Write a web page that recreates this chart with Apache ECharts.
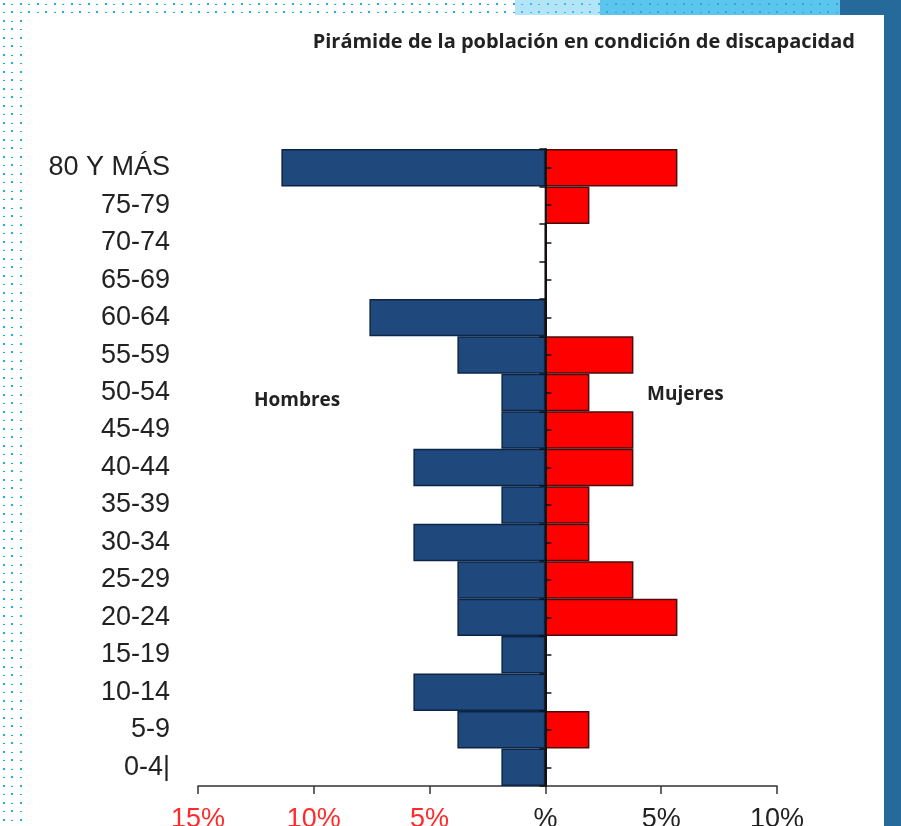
<!DOCTYPE html>
<html>
<head>
<meta charset="utf-8">
<script src="https://cdn.jsdelivr.net/npm/echarts@6/dist/echarts.min.js"></script>
<style>
html,body{margin:0;padding:0;background:#fff;}
#chart{width:901px;height:826px;}
</style>
</head>
<body>
<div id="chart"></div>
<script>
var categories = ["80 Y MÁS","75-79","70-74","65-69","60-64","55-59","50-54","45-49","40-44","35-39","30-34","25-29","20-24","15-19","10-14","5-9","0-4|"];
var hombres = [11.4,0,0,0,7.6,3.8,1.9,1.9,5.7,1.9,5.7,3.8,3.8,1.9,5.7,3.8,1.9];
var mujeres = [5.7,1.9,0,0,0,3.8,1.9,3.8,3.8,1.9,1.9,3.8,5.7,0,0,1.9,0];
var xTicks = [-15,-10,-5,0,5,10];
var xTickLabels = ["15%","10%","5%","%","5%","10%"];
var titleText = "Pirámide de la población en condición de discapacidad";

function dotPattern(bg, dot) {
  var c = document.createElement('canvas');
  c.width = 17; c.height = 17;
  var g = c.getContext('2d');
  g.fillStyle = bg; g.fillRect(0, 0, 17, 17);
  g.fillStyle = dot;
  g.fillRect(3, 3, 2, 2);
  g.fillRect(11, 11, 2, 2);
  g.fillRect(11, 4, 2, 1);
  g.fillRect(3, 12, 2, 1);
  return c;
}

var chart = echarts.init(document.getElementById('chart'), null, {renderer: 'canvas'});
var gridPos = {left: 198, top: 149, width: 579, height: 637};

function labelFor(v) {
  var i = xTicks.indexOf(v);
  return i >= 0 ? xTickLabels[i] : '';
}

chart.setOption({
  backgroundColor: '#ffffff',
  animation: false,
  title: {
    text: titleText,
    right: 41, top: 27,
    textStyle: {fontFamily: 'Open Sans', fontWeight: 'bold', fontSize: 20, color: '#222'}
  },
  graphic: [
    {type: 'rect', shape: {x: 0, y: 0, width: 22, height: 826}, style: {fill: {image: dotPattern('#ffffff', '#1aaee8'), repeat: 'repeat'}}, silent: true, z: -10},
    {type: 'rect', shape: {x: 0, y: 0, width: 515, height: 15}, style: {fill: {image: dotPattern('#ffffff', '#1aaee8'), repeat: 'repeat'}}, silent: true, z: -10},
    {type: 'rect', shape: {x: 515, y: 0, width: 85, height: 15}, style: {fill: {image: dotPattern('#b3e4f8', '#3dbbec'), repeat: 'repeat'}}, silent: true, z: -10},
    {type: 'rect', shape: {x: 600, y: 0, width: 240, height: 15}, style: {fill: {image: dotPattern('#5cc5ed', '#2aa8dc'), repeat: 'repeat'}}, silent: true, z: -10},
    {type: 'rect', shape: {x: 840, y: 0, width: 61, height: 15}, style: {fill: '#256a9b'}, silent: true, z: -10},
    {type: 'rect', shape: {x: 884, y: 0, width: 17, height: 826}, style: {fill: '#256a9b'}, silent: true, z: -10},
    {type: 'text', left: 254, top: 391, style: {text: 'Hombres', fontFamily: 'Open Sans', fontWeight: 'bold', fontSize: 19, fill: '#222'}},
    {type: 'text', left: 647, top: 385, style: {text: 'Mujeres', fontFamily: 'Open Sans', fontWeight: 'bold', fontSize: 19, fill: '#222'}}
  ],
  grid: [
    Object.assign({outerBoundsMode: 'none', containLabel: false}, gridPos),
    Object.assign({outerBoundsMode: 'none', containLabel: false}, gridPos)
  ],
  xAxis: [
    {
      type: 'value', gridIndex: 0, min: -15, max: 10, interval: 5,
      splitLine: {show: false},
      axisLine: {show: true, lineStyle: {color: '#333', width: 1.5}},
      axisTick: {show: true, length: 8, lineStyle: {color: '#333', width: 1.5}},
      axisLabel: {
        margin: 20, fontSize: 27, fontFamily: 'Liberation Sans',
        formatter: function (v) { return labelFor(v); },
        color: function (v) { return Number(v) < 0 ? '#ff2a2a' : '#222'; }
      }
    },
    {
      type: 'value', gridIndex: 1, min: -15, max: 10, interval: 5,
      show: false, splitLine: {show: false}
    }
  ],
  yAxis: [
    {
      type: 'category', gridIndex: 0, data: categories, inverse: true,
      axisLine: {show: false, onZero: false},
      axisTick: {show: false},
      axisLabel: {margin: 28, fontSize: 27, fontFamily: 'Liberation Sans', color: '#222'}
    },
    {
      type: 'category', gridIndex: 0, data: categories, inverse: true, z: 5,
      position: 'left',
      axisLine: {show: true, onZero: true, onZeroAxisIndex: 0, lineStyle: {color: '#111', width: 2}},
      axisTick: {show: true, length: 6, lineStyle: {color: '#111', width: 1.5}},
      axisLabel: {show: false}
    },
    {
      type: 'category', gridIndex: 1, data: categories, inverse: true, z: 5,
      position: 'left',
      axisLine: {show: false, onZero: true},
      axisTick: {show: true, inside: true, alignWithLabel: true, length: 6, lineStyle: {color: '#111', width: 1.5}},
      axisLabel: {show: false}
    }
  ],
  series: [
    {
      name: 'Hombres', type: 'bar', xAxisIndex: 0, yAxisIndex: 0,
      data: hombres.map(function (v) { return -v; }),
      barGap: '-100%', barCategoryGap: 0,
      itemStyle: {color: '#1f497d', borderColor: '#0d2545', borderWidth: 1.5}
    },
    {
      name: 'Mujeres', type: 'bar', xAxisIndex: 0, yAxisIndex: 0,
      data: mujeres,
      barGap: '-100%', barCategoryGap: 0,
      itemStyle: {color: '#ff0000', borderColor: '#4a0c0c', borderWidth: 1.5}
    }
  ]
});
</script>
</body>
</html>
